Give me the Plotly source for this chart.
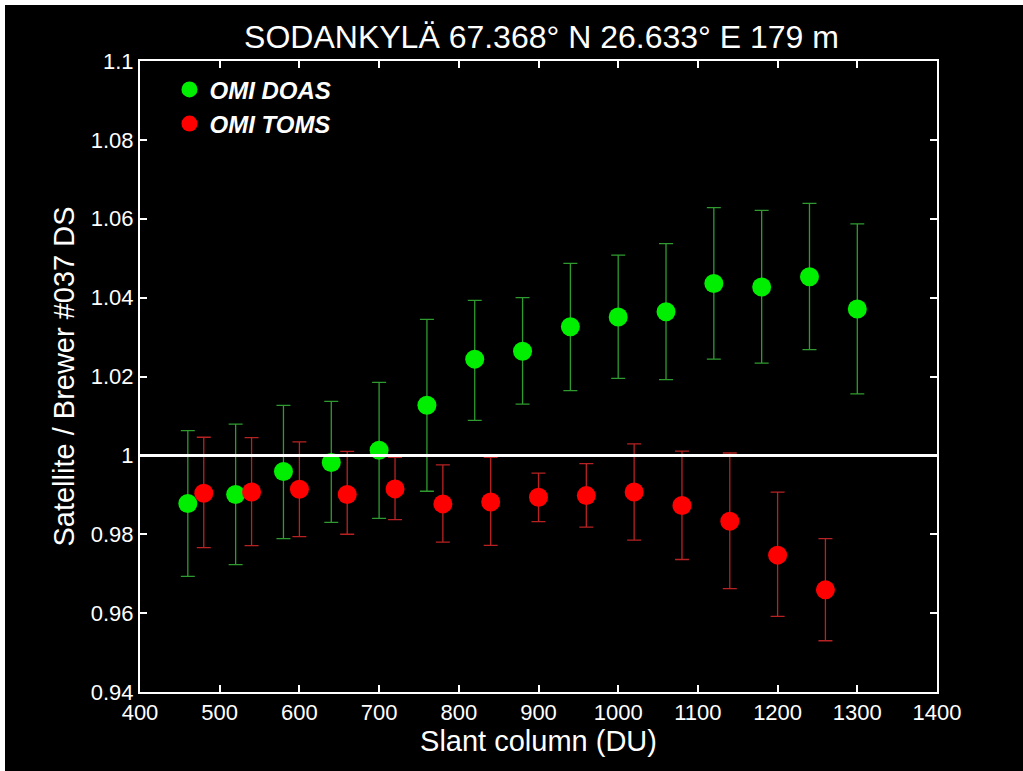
import plotly.graph_objects as go

# --- data ---
doas_x = [460, 520, 580, 640, 700, 760, 820, 880, 940, 1000, 1060, 1120, 1180, 1240, 1300]
doas_y = [0.9878, 0.9901, 0.9959, 0.9982, 1.0013, 1.0127, 1.0244, 1.0264, 1.0326, 1.0351,
          1.0364, 1.0436, 1.0427, 1.0453, 1.0371]
doas_hi = [1.0063, 1.0079, 1.0127, 1.0137, 1.0185, 1.0345, 1.0393, 1.0400, 1.0487, 1.0508,
           1.0537, 1.0628, 1.0621, 1.0639, 1.0587]
doas_lo = [0.9693, 0.9723, 0.9789, 0.9830, 0.9840, 0.9909, 1.0089, 1.0130, 1.0164, 1.0195,
           1.0192, 1.0244, 1.0234, 1.0268, 1.0156]

toms_x = [480, 540, 600, 660, 720, 780, 840, 900, 960, 1020, 1080, 1140, 1200, 1260]
toms_y = [0.9904, 0.9907, 0.9914, 0.9901, 0.9915, 0.9877, 0.9882, 0.9894, 0.9898, 0.9907,
          0.9873, 0.9833, 0.9747, 0.9659]
toms_hi = [1.0046, 1.0045, 1.0034, 1.0010, 0.9995, 0.9976, 0.9995, 0.9955, 0.9979, 1.0029,
           1.0011, 1.0006, 0.9907, 0.9789]
toms_lo = [0.9766, 0.9771, 0.9794, 0.9800, 0.9837, 0.9780, 0.9772, 0.9832, 0.9818, 0.9785,
           0.9736, 0.9662, 0.9592, 0.9530]

x_ticks = [400, 500, 600, 700, 800, 900, 1000, 1100, 1200, 1300, 1400]
y_ticks = [0.94, 0.96, 0.98, 1.0, 1.02, 1.04, 1.06, 1.08, 1.1]
y_tick_text = ["0.94", "0.96", "0.98", "1", "1.02", "1.04", "1.06", "1.08", "1.1"]

title_text = "SODANKYLÄ 67.368° N 26.633° E 179 m"
x_title = "Slant column (DU)"
y_title = "Satellite / Brewer #037 DS"

FONT = "Liberation Sans, Arial, sans-serif"

fig = go.Figure()

fig.add_trace(go.Scatter(
    x=doas_x, y=doas_y, mode="markers", name="OMI DOAS",
    marker=dict(color="#00ee00", size=19, line=dict(width=0)),
    error_y=dict(type="data", symmetric=False,
                 array=[h - v for h, v in zip(doas_hi, doas_y)],
                 arrayminus=[v - l for l, v in zip(doas_lo, doas_y)],
                 color="#2f9a2f", thickness=1.3, width=7),
))
fig.add_trace(go.Scatter(
    x=toms_x, y=toms_y, mode="markers", name="OMI TOMS",
    marker=dict(color="#ff0000", size=19, line=dict(width=0)),
    error_y=dict(type="data", symmetric=False,
                 array=[h - v for h, v in zip(toms_hi, toms_y)],
                 arrayminus=[v - l for l, v in zip(toms_lo, toms_y)],
                 color="#b82222", thickness=1.3, width=7),
))

fig.add_shape(type="line", xref="paper", x0=0, x1=1, yref="y", y0=1.0, y1=1.0,
              line=dict(color="white", width=3), layer="above")

axis_common = dict(
    showgrid=False, zeroline=False, showline=True, linecolor="white", linewidth=2,
    mirror="ticks", ticks="inside", ticklen=7, tickwidth=1.5, tickcolor="white",
    tickfont=dict(family=FONT, size=22, color="white"),
)

fig.update_layout(
    width=1020, height=768,
    paper_bgcolor="black", plot_bgcolor="black",
    margin=dict(l=135, r=88, t=56, b=81),
    title=dict(text=title_text, x=0.526, xanchor="center",
               y=1 - 32 / 768, yanchor="middle",
               font=dict(family=FONT, size=32, color="white")),
    xaxis=dict(range=[400, 1400], tickvals=x_ticks,
               title=dict(text=x_title, font=dict(family=FONT, size=29, color="white"), standoff=2),
               **axis_common),
    yaxis=dict(range=[0.94, 1.1], tickvals=y_ticks, ticktext=y_tick_text,
               title=dict(text=y_title, font=dict(family=FONT, size=29, color="white"), standoff=8),
               **axis_common),
    showlegend=True,
    legend=dict(x=0.037, y=0.99, xanchor="left", yanchor="top", bgcolor="rgba(0,0,0,0)",
                font=dict(family=FONT, size=24, color="white", weight="bold", style="italic"),
                itemsizing="trace", tracegroupgap=2),
)

fig.write_html(
    "out.html",
    post_script="document.body.style.margin='5px 0 0 5px';"
                "document.body.style.overflow='hidden';",
)
